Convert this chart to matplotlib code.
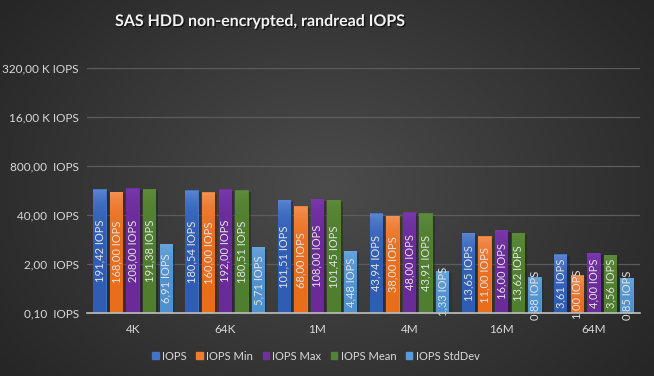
import numpy as np
import matplotlib
matplotlib.use("Agg")
import matplotlib.pyplot as plt
import matplotlib.patheffects as pe
from matplotlib.colors import LinearSegmentedColormap, to_rgb

categories = ["4K", "64K", "1M", "4M", "16M", "64M"]
series_names = ["IOPS", "IOPS Min", "IOPS Max", "IOPS Mean", "IOPS StdDev"]
iops = [191.42, 180.54, 101.51, 43.94, 13.65, 3.61]
iops_min = [168.00, 160.00, 68.00, 38.00, 11.00, 1.00]
iops_max = [208.00, 192.00, 108.00, 48.00, 16.00, 4.00]
iops_mean = [191.38, 180.51, 101.45, 43.91, 13.62, 3.56]
iops_std = [6.91, 5.71, 4.48, 1.33, 0.88, 0.85]
tick_values = [0.1, 2, 40, 800, 16000, 320000]
tick_labels = ["0,10  IOPS", "2,00  IOPS", "40,00  IOPS", "800,00  IOPS",
               "16,00 K IOPS", "320,00 K IOPS"]

series = [iops, iops_min, iops_max, iops_mean, iops_std]
top_cols = ["#5d88d4", "#f4935a", "#7a3aae", "#5c8c3c", "#6aa6dc"]
bot_cols = ["#2f5db3", "#e86e1c", "#6a2a98", "#4e7e2e", "#4f90cf"]
leg_cols = ["#4472c4", "#ed7d31", "#7030a0", "#548235", "#5b9bd5"]

FONT = "Lato"
W, H = 654, 376
fig = plt.figure(figsize=(W / 100, H / 100), dpi=100)

# radial background
bg = fig.add_axes([0, 0, 1, 1], zorder=-10)
yy, xx = np.mgrid[0:H, 0:W]
r = np.sqrt(((xx - W * 0.5) / (W * 0.62)) ** 2 + ((yy - H * 0.5) / (H * 0.8)) ** 2)
r = np.clip(r, 0, 1)
c_in = np.array(to_rgb("#4c4c4c"))
c_out = np.array(to_rgb("#262626"))
img = c_in[None, None, :] * (1 - r[..., None]) + c_out[None, None, :] * r[..., None]
bg.imshow(img, aspect="auto", extent=[0, 1, 0, 1], origin="upper")
bg.axis("off")

ax = fig.add_axes([87 / W, (H - 313) / H, (640 - 87) / W, (313 - 68) / H])
ax.set_facecolor("none")
ax.set_yscale("log")

n = len(series)
pitch = 0.18
bw = 0.145
x = np.arange(len(categories))
for i, (vals, tc, bc) in enumerate(zip(series, top_cols, bot_cols)):
    offs = (i - (n - 1) / 2) * pitch
    bars = ax.bar(x + offs, vals, width=bw, color=leg_cols[i], zorder=3,
                  path_effects=[pe.SimplePatchShadow(offset=(1.5, -1.5), alpha=0.45), pe.Normal()])
    cmap = LinearSegmentedColormap.from_list("g%d" % i, [bc, tc])
    grad = np.linspace(0, 1, 64).reshape(-1, 1)
    for b, v in zip(bars, vals):
        x0 = b.get_x()
        im = ax.imshow(grad, cmap=cmap, aspect="auto", origin="lower",
                       extent=[x0, x0 + bw, 0.1, v], zorder=3.5, interpolation="bilinear")
        im.set_clip_path(b)
        # label centered (in log space) on the bar
        yc = np.sqrt(0.1 * v)
        ax.text(x0 + bw / 2, yc, ("%.2f IOPS" % v).replace(".", ","), rotation=90,
                ha="center", va="center", color="#e3e3e3", fontsize=8, family=FONT,
                zorder=5)
ax.set_xlim(-0.5, len(categories) - 0.5)
ax.set_ylim(0.1, 320000)

ax.set_yticks(tick_values)
ax.set_yticklabels(tick_labels)
ax.yaxis.set_minor_locator(matplotlib.ticker.NullLocator())
ax.set_xticks(x)
ax.set_xticklabels(categories)
ax.tick_params(axis="both", length=0, colors="#d0d0d0", labelsize=8.5)
ax.tick_params(axis="y", pad=6)
ax.tick_params(axis="x", pad=8)
for lab in ax.get_xticklabels() + ax.get_yticklabels():
    lab.set_family(FONT)
    lab.set_color("#d9d9d9")
for s in ["top", "right", "left"]:
    ax.spines[s].set_visible(False)
ax.spines["bottom"].set_color("#bfbfbf")
ax.spines["bottom"].set_linewidth(1.2)
ax.spines["bottom"].set_zorder(6)
ax.grid(axis="y", color="#5c5c5c", linewidth=0.9, zorder=0)
ax.set_axisbelow(True)

fig.text(260 / W, 1 - 22 / H, "SAS HDD non-encrypted, randread IOPS", ha="center", va="center",
         color="#f2f2f2", fontsize=11.5, fontweight="bold", family=FONT,
         path_effects=[pe.withSimplePatchShadow(offset=(1, -1), shadow_rgbFace="black", alpha=0.6)])

handles = [plt.Rectangle((0, 0), 1, 1, color=c) for c in leg_cols]
leg = fig.legend(handles, series_names, loc="center", bbox_to_anchor=(316 / W, 1 - 356 / H),
                 ncol=5, frameon=False, handlelength=0.55, handleheight=0.55, handletextpad=0.3,
                 columnspacing=0.9, prop={"family": FONT, "size": 8})
for t in leg.get_texts():
    t.set_color("#d9d9d9")

fig.savefig("out.png", dpi=100)
